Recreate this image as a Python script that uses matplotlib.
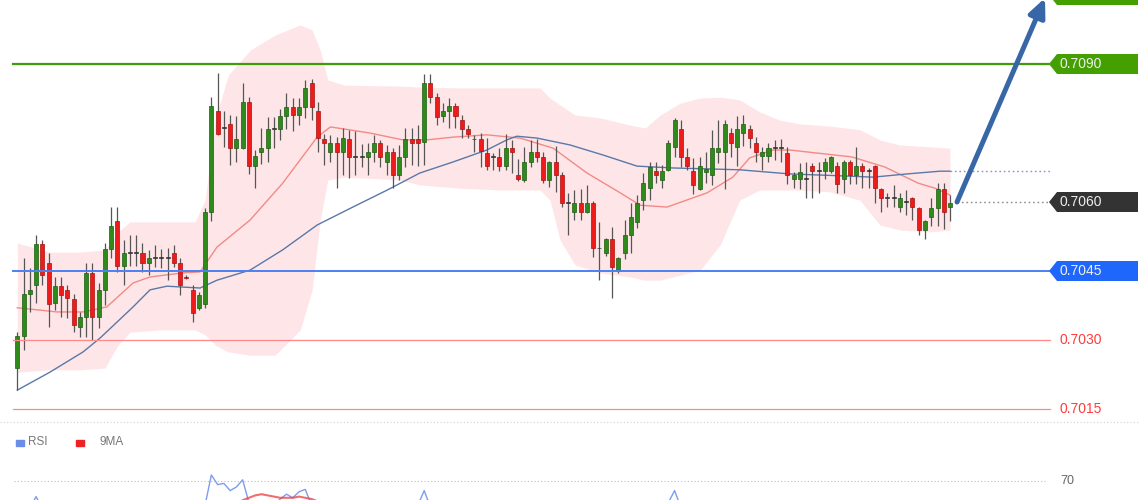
import numpy as np
import matplotlib
matplotlib.use("Agg")
from matplotlib import pyplot as plt
from matplotlib.patches import Polygon, Rectangle
from matplotlib.lines import Line2D
from matplotlib.transforms import blended_transform_factory

plt.rcParams['font.family'] = ['Liberation Sans', 'DejaVu Sans']

# candles (OHLC), one per bar
opens = [0.70239, 0.70309, 0.70400, 0.70420, 0.70509, 0.70467, 0.70380, 0.70417, 0.70409, 0.70389,
         0.70328, 0.70350, 0.70446, 0.70350, 0.70409, 0.70498, 0.70559, 0.70461, 0.70489, 0.70489,
         0.70489, 0.70467, 0.70478, 0.70478, 0.70478, 0.70489, 0.70467, 0.70437, 0.70409, 0.70370,
         0.70378, 0.70578, 0.70798, 0.70761, 0.70770, 0.70717, 0.70717, 0.70817, 0.70678, 0.70709,
         0.70717, 0.70759, 0.70759, 0.70787, 0.70807, 0.70789, 0.70807, 0.70859, 0.70798, 0.70737,
         0.70709, 0.70728, 0.70709, 0.70737, 0.70698, 0.70698, 0.70698, 0.70709, 0.70728, 0.70687,
         0.70709, 0.70659, 0.70698, 0.70737, 0.70737, 0.70730, 0.70859, 0.70828, 0.70787, 0.70798,
         0.70809, 0.70778, 0.70759, 0.70737, 0.70737, 0.70707, 0.70698, 0.70698, 0.70678, 0.70717,
         0.70659, 0.70648, 0.70687, 0.70709, 0.70698, 0.70648, 0.70687, 0.70659, 0.70598, 0.70578,
         0.70598, 0.70578, 0.70598, 0.70500, 0.70489, 0.70520, 0.70450, 0.70489, 0.70528, 0.70557,
         0.70604, 0.70630, 0.70667, 0.70648, 0.70670, 0.70720, 0.70759, 0.70698, 0.70667, 0.70628,
         0.70665, 0.70659, 0.70709, 0.70709, 0.70750, 0.70720, 0.70750, 0.70759, 0.70728, 0.70700,
         0.70700, 0.70717, 0.70717, 0.70707, 0.70650, 0.70650, 0.70650, 0.70678, 0.70667, 0.70667,
         0.70667, 0.70678, 0.70650, 0.70687, 0.70659, 0.70678, 0.70667, 0.70678, 0.70628, 0.70609,
         0.70609, 0.70589, 0.70600, 0.70609, 0.70587, 0.70539, 0.70567, 0.70587, 0.70628, 0.70589]
highs = [0.70317, 0.70478, 0.70457, 0.70528, 0.70517, 0.70489, 0.70437, 0.70437, 0.70420, 0.70400,
         0.70361, 0.70467, 0.70467, 0.70424, 0.70511, 0.70589, 0.70589, 0.70517, 0.70528, 0.70528,
         0.70511, 0.70496, 0.70507, 0.70498, 0.70500, 0.70507, 0.70478, 0.70441, 0.70420, 0.70404,
         0.70587, 0.70828, 0.70880, 0.70798, 0.70789, 0.70787, 0.70859, 0.70828, 0.70713, 0.70761,
         0.70785, 0.70785, 0.70802, 0.70837, 0.70826, 0.70826, 0.70865, 0.70867, 0.70817, 0.70748,
         0.70746, 0.70741, 0.70761, 0.70757, 0.70754, 0.70726, 0.70728, 0.70746, 0.70735, 0.70724,
         0.70717, 0.70724, 0.70761, 0.70761, 0.70767, 0.70878, 0.70878, 0.70837, 0.70815, 0.70826,
         0.70815, 0.70789, 0.70767, 0.70746, 0.70750, 0.70739, 0.70707, 0.70717, 0.70748, 0.70735,
         0.70693, 0.70720, 0.70735, 0.70737, 0.70709, 0.70690, 0.70722, 0.70665, 0.70620, 0.70626,
         0.70628, 0.70637, 0.70602, 0.70557, 0.70522, 0.70546, 0.70480, 0.70561, 0.70598, 0.70615,
         0.70663, 0.70687, 0.70687, 0.70680, 0.70735, 0.70782, 0.70778, 0.70717, 0.70696, 0.70698,
         0.70709, 0.70757, 0.70778, 0.70778, 0.70761, 0.70787, 0.70789, 0.70767, 0.70741, 0.70720,
         0.70728, 0.70735, 0.70737, 0.70720, 0.70665, 0.70685, 0.70687, 0.70685, 0.70687, 0.70696,
         0.70700, 0.70687, 0.70691, 0.70691, 0.70720, 0.70685, 0.70674, 0.70680, 0.70630, 0.70620,
         0.70637, 0.70620, 0.70626, 0.70611, 0.70589, 0.70561, 0.70609, 0.70641, 0.70641, 0.70615]
lows = [0.70191, 0.70278, 0.70361, 0.70380, 0.70420, 0.70328, 0.70365, 0.70350, 0.70348, 0.70317,
        0.70307, 0.70307, 0.70300, 0.70326, 0.70376, 0.70478, 0.70448, 0.70420, 0.70461, 0.70461,
        0.70448, 0.70441, 0.70459, 0.70457, 0.70430, 0.70459, 0.70398, 0.70433, 0.70339, 0.70365,
        0.70370, 0.70559, 0.70746, 0.70720, 0.70680, 0.70687, 0.70715, 0.70661, 0.70630, 0.70683,
        0.70687, 0.70717, 0.70735, 0.70759, 0.70754, 0.70767, 0.70783, 0.70778, 0.70709, 0.70680,
        0.70687, 0.70630, 0.70659, 0.70652, 0.70659, 0.70676, 0.70659, 0.70687, 0.70676, 0.70659,
        0.70630, 0.70648, 0.70676, 0.70680, 0.70678, 0.70680, 0.70815, 0.70767, 0.70774, 0.70761,
        0.70761, 0.70739, 0.70739, 0.70709, 0.70676, 0.70670, 0.70670, 0.70667, 0.70670, 0.70663,
        0.70646, 0.70643, 0.70676, 0.70687, 0.70641, 0.70633, 0.70622, 0.70589, 0.70528, 0.70561,
        0.70561, 0.70576, 0.70480, 0.70430, 0.70483, 0.70391, 0.70446, 0.70476, 0.70489, 0.70543,
        0.70583, 0.70604, 0.70641, 0.70630, 0.70668, 0.70698, 0.70676, 0.70670, 0.70617, 0.70626,
        0.70641, 0.70637, 0.70685, 0.70628, 0.70698, 0.70678, 0.70722, 0.70717, 0.70687, 0.70670,
        0.70687, 0.70691, 0.70687, 0.70639, 0.70630, 0.70628, 0.70609, 0.70609, 0.70620, 0.70650,
        0.70663, 0.70620, 0.70620, 0.70639, 0.70639, 0.70630, 0.70630, 0.70598, 0.70578, 0.70589,
        0.70589, 0.70578, 0.70572, 0.70561, 0.70528, 0.70520, 0.70548, 0.70548, 0.70541, 0.70559]
closes = [0.70309, 0.70400, 0.70409, 0.70509, 0.70441, 0.70378, 0.70417, 0.70398, 0.70391, 0.70333,
          0.70350, 0.70446, 0.70350, 0.70409, 0.70498, 0.70548, 0.70461, 0.70489, 0.70490, 0.70490,
          0.70467, 0.70478, 0.70479, 0.70479, 0.70479, 0.70467, 0.70420, 0.70435, 0.70359, 0.70398,
          0.70578, 0.70809, 0.70748, 0.70760, 0.70717, 0.70737, 0.70817, 0.70678, 0.70700, 0.70717,
          0.70759, 0.70760, 0.70787, 0.70807, 0.70789, 0.70807, 0.70848, 0.70807, 0.70739, 0.70728,
          0.70728, 0.70709, 0.70739, 0.70698, 0.70699, 0.70699, 0.70709, 0.70728, 0.70698, 0.70709,
          0.70659, 0.70698, 0.70737, 0.70728, 0.70728, 0.70859, 0.70828, 0.70785, 0.70798, 0.70809,
          0.70787, 0.70759, 0.70748, 0.70736, 0.70711, 0.70678, 0.70697, 0.70678, 0.70717, 0.70709,
          0.70650, 0.70687, 0.70709, 0.70698, 0.70648, 0.70687, 0.70659, 0.70598, 0.70597, 0.70598,
          0.70578, 0.70598, 0.70500, 0.70499, 0.70520, 0.70459, 0.70478, 0.70528, 0.70567, 0.70598,
          0.70641, 0.70676, 0.70659, 0.70667, 0.70728, 0.70778, 0.70698, 0.70678, 0.70637, 0.70678,
          0.70672, 0.70717, 0.70717, 0.70770, 0.70728, 0.70759, 0.70770, 0.70739, 0.70709, 0.70709,
          0.70717, 0.70718, 0.70718, 0.70659, 0.70659, 0.70665, 0.70651, 0.70667, 0.70668, 0.70687,
          0.70698, 0.70639, 0.70687, 0.70659, 0.70678, 0.70667, 0.70668, 0.70630, 0.70609, 0.70610,
          0.70610, 0.70609, 0.70601, 0.70589, 0.70539, 0.70559, 0.70587, 0.70628, 0.70578, 0.70598]

# bollinger envelope, read at bar positions
band_at = [0, 5.2, 10.0, 14.0, 16.1, 18.0, 22.8, 28.4, 30.0, 31.6, 33.7, 37.2, 41.2, 45.2, 47.1,
           48.4, 49.6, 52.3, 61.1, 64.3, 70.7, 77.1, 83.5, 85.1, 86.7, 89.1, 93.1, 97.9, 100.3,
           102.7, 105.9, 109.1, 112.3, 115.4, 118.6, 121.8, 125.0, 129.8, 134.6, 137.8, 141.0,
           145.8, 149.0]
band_upper = [0.70511, 0.70491, 0.70491, 0.70496, 0.70535, 0.70557, 0.70557, 0.70557, 0.70604,
              0.70778, 0.70876, 0.70930, 0.70963, 0.70985, 0.70974, 0.70930, 0.70865, 0.70854,
              0.70852, 0.70850, 0.70848, 0.70848, 0.70848, 0.70826, 0.70811, 0.70789, 0.70783,
              0.70767, 0.70761, 0.70789, 0.70815, 0.70826, 0.70828, 0.70822, 0.70796, 0.70778,
              0.70770, 0.70765, 0.70757, 0.70735, 0.70724, 0.70720, 0.70717]
band_lower = [0.70230, 0.70235, 0.70235, 0.70239, 0.70289, 0.70317, 0.70322, 0.70322, 0.70311,
              0.70289, 0.70274, 0.70267, 0.70267, 0.70322, 0.70409, 0.70561, 0.70648, 0.70654,
              0.70648, 0.70637, 0.70630, 0.70626, 0.70626, 0.70604, 0.70517, 0.70463, 0.70446,
              0.70437, 0.70430, 0.70430, 0.70441, 0.70452, 0.70507, 0.70604, 0.70626, 0.70626,
              0.70626, 0.70622, 0.70604, 0.70550, 0.70539, 0.70535, 0.70539]

# moving averages, read at bar positions
ma_fast_at = [0, 3.6, 6.3, 10.5, 14.3, 18.5, 21.2, 26.5, 29.2, 31.9, 37.2, 42.4, 47.9, 50.0, 51.1,
              56.3, 61.6, 65.4, 69.6, 75.0, 80.3, 85.6, 91.0, 96.3, 99.5, 103.8, 110.2, 114.3,
              117.0, 120.7, 123.4, 133.3, 138.6, 143.9, 146.6, 149.0]
ma_fast = [0.70370, 0.70365, 0.70361, 0.70361, 0.70372, 0.70424, 0.70437, 0.70446, 0.70448,
           0.70502, 0.70561, 0.70641, 0.70741, 0.70763, 0.70761, 0.70750, 0.70735, 0.70735,
           0.70741, 0.70746, 0.70739, 0.70717, 0.70663, 0.70620, 0.70593, 0.70589, 0.70620,
           0.70654, 0.70696, 0.70713, 0.70713, 0.70698, 0.70676, 0.70641, 0.70630, 0.70615]
ma_slow_at = [0, 5.2, 10.5, 13.2, 18.5, 21.2, 23.9, 26.5, 29.2, 31.9, 37.2, 42.4, 47.9, 53.6,
              59.1, 64.3, 69.6, 75.0, 78.2, 79.8, 83.0, 88.3, 93.6, 99.0, 104.7, 110.2, 115.4,
              123.4, 131.4, 136.7, 142.1, 147.4, 149.0]
ma_slow = [0.70191, 0.70230, 0.70274, 0.70304, 0.70372, 0.70409, 0.70417, 0.70415, 0.70413,
           0.70430, 0.70452, 0.70496, 0.70550, 0.70589, 0.70626, 0.70663, 0.70687, 0.70713,
           0.70735, 0.70743, 0.70739, 0.70724, 0.70702, 0.70678, 0.70674, 0.70672, 0.70670,
           0.70661, 0.70657, 0.70654, 0.70661, 0.70667, 0.70667]

# level lines
levels = [0.7105, 0.7090, 0.7060, 0.7045, 0.7030, 0.7015]
level_labels = ['0.7105', '0.7090', '0.7060', '0.7045', '0.7030', '0.7015']

# rsi panel (only the part above the bottom edge is visible)
rsi_at = [0, 2, 3, 4, 6, 29, 30, 31, 32, 33, 34, 35, 36, 37, 39, 41, 42, 43, 44, 45, 46, 47, 49,
          63, 64, 65, 66, 68, 102, 104, 105, 106, 108]
rsi = [45, 47, 57, 47, 45, 45, 50, 75, 67, 68, 62, 65, 71, 52, 47, 50, 55, 59, 56, 61, 63, 50, 45,
       45, 50, 62, 48, 45, 45, 52, 62, 48, 45]
rsi_ma_at = [35, 36, 37, 38, 39, 40, 41, 42, 43, 44, 45, 46, 47, 48, 49]
rsi_ma = [50, 54, 56, 58, 59, 58, 57, 56, 56, 56, 57, 56, 55, 53, 50]

W, H = 1140, 500
X0, DX = 17.3, 6.26           # pixel position of bar 0, pixels per bar
PX_PER_PRICE = 46000.0


def bar_at(px):
    return (px - X0) / DX


fig = plt.figure(figsize=(W / 100, H / 100), dpi=100)
fig.patch.set_facecolor('white')

ax = fig.add_axes([0, 80 / H, 1, 420 / H])
ax.set_xlim(bar_at(0), bar_at(W))
ax.set_ylim(0.7045 - 149 / PX_PER_PRICE, 0.7045 + 271 / PX_PER_PRICE)
ax.axis('off')
trans = blended_transform_factory(ax.transAxes, ax.transData)

ax.fill_between(band_at, band_lower, band_upper, color='#fee6e8', lw=0, zorder=1)
ax.plot(ma_fast_at, ma_fast, color='#f28a86', lw=1.0, zorder=2)
ax.plot(ma_slow_at, ma_slow, color='#5a78a8', lw=1.0, zorder=2)

o = np.array(opens)
hi = np.array(highs)
lo = np.array(lows)
c = np.array(closes)
idx = np.arange(len(o))
rising = c >= o
flat = np.abs(c - o) < 0.00002
face = np.where(flat, '#333333', np.where(rising, '#2e8a1b', '#ee1b1b'))
edge = np.where(flat, '#333333', np.where(rising, '#1c5c10', '#a81010'))
ax.vlines(idx, lo, hi, color='#555555', lw=0.9, zorder=3)
ax.bar(idx, np.maximum(np.abs(c - o), 0.00002), bottom=np.minimum(o, c), width=0.64,
       color=face, edgecolor=edge, lw=0.5, zorder=4)

# horizontal levels
ax.axhline(levels[1], xmin=13 / W, xmax=1050 / W, color='#3f9b07', lw=1.6, zorder=5)
ax.axhline(levels[3], xmin=13 / W, xmax=1050 / W, color='#4d80f2', lw=1.4, zorder=5)
ax.axhline(levels[4], xmin=13 / W, xmax=1050 / W, color='#ff8888', lw=0.9, zorder=5)
ax.axhline(levels[5], xmin=13 / W, xmax=1050 / W, color='#ff8888', lw=0.9, zorder=5)
ax.plot([bar_at(957), bar_at(1050)], [levels[2]] * 2, ls=(0, (1.2, 2)), color='#8c8c8c',
        lw=1.0, zorder=5)
ax.plot([idx[-1], bar_at(1050)], [ma_slow[-1]] * 2, ls=(0, (1.2, 2)), color='#8598c4',
        lw=1.0, zorder=5)


def tag(y, text, fc):
    hh = 10 / PX_PER_PRICE
    pts = [(1049 / W, y), (1057 / W, y + hh), (1138 / W, y + hh), (1138 / W, y - hh),
           (1057 / W, y - hh)]
    ax.add_patch(Polygon(pts, closed=True, transform=trans, fc=fc, ec='none', zorder=6,
                         clip_on=False))
    if text:
        ax.text(1060 / W, y, text, transform=trans, color='#eeeeee', fontsize=10,
                va='center', ha='left', zorder=7, clip_on=False)


# the top tag sits almost entirely above the picture, its text is not visible
tag(levels[0], '', '#43a000')
tag(levels[1], level_labels[1], '#43a000')
tag(levels[2], level_labels[2], '#333333')
tag(levels[3], level_labels[3], '#1f66fb')
for lv, lb in zip(levels[4:], level_labels[4:]):
    ax.text(1060 / W, lv, lb, transform=trans, color='#ff3b3b', fontsize=10,
            va='center', ha='left', zorder=7)

ax.annotate('', xy=(bar_at(1045), 0.7045 + 273 / PX_PER_PRICE), xytext=(bar_at(957), levels[2]),
            arrowprops=dict(arrowstyle='-|>,head_length=1.1,head_width=0.5', color='#3767a6',
                            lw=3.6, shrinkA=0, shrinkB=0),
            annotation_clip=False, zorder=8)

# rsi panel
rax = fig.add_axes([0, 0, 1, 78 / H])
rax.set_xlim(bar_at(0), bar_at(W))
rax.set_ylim(70 - 19 / 1.2, 70 + 59 / 1.2)
rax.axis('off')
rax.axhline(70, xmin=14 / W, xmax=1047 / W, ls=(0, (1, 2)), color='#bdbdbd', lw=0.8)
rax.plot(rsi_at, rsi, color='#7d9cf0', lw=1.0)
rax.plot(rsi_ma_at, rsi_ma, color='#f03c3c', lw=1.5, alpha=0.75)
rax.text(1060 / W, 70, '70', transform=blended_transform_factory(rax.transAxes, rax.transData),
         color='#666666', fontsize=9, va='center', ha='left')

fig.add_artist(Line2D([0, 1], [78 / H, 78 / H], transform=fig.transFigure,
                      ls=(0, (1, 2)), color='#d0d0d0', lw=0.8))
fig.add_artist(Rectangle((16 / W, 1 - 446 / H), 8 / W, 6 / H, transform=fig.transFigure,
                         color='#6a8ee8'))
fig.text(28 / W, 1 - 442 / H, 'RSI', color='#777777', fontsize=8.5, va='center')
fig.add_artist(Rectangle((76 / W, 1 - 446 / H), 8 / W, 6 / H, transform=fig.transFigure,
                         color='#ee2222'))
fig.text(100 / W, 1 - 442 / H, '9MA', color='#777777', fontsize=8.5, va='center')

fig.savefig('out.png', dpi=100, facecolor='white')
